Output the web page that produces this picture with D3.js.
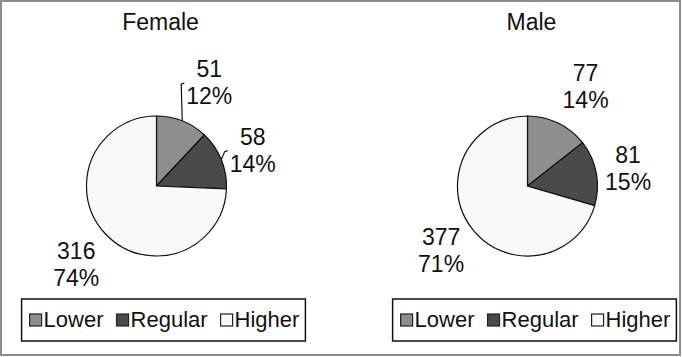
<!DOCTYPE html>
<html>
<head>
<meta charset="utf-8">
<script src="https://cdn.jsdelivr.net/npm/d3@7"></script>
<style>
  body { margin: 0; background: #fff; }
  text { font-family: "Liberation Sans", Arial, sans-serif; fill: #111; }
</style>
</head>
<body>
<div id="container"></div>
<script>
// data
const groups = ["Female", "Male"];
const categories = ["Lower", "Regular", "Higher"];
const femaleCounts = [51, 58, 316];
const maleCounts = [77, 81, 377];
const femalePct = ["12%", "14%", "74%"];
const malePct = ["14%", "15%", "71%"];
const femaleLeaders = [true, true, false];
const maleLeaders = [false, false, false];

const width = 682, height = 357;
const radius = 70, cy = 186;
const centersX = [156.5, 527.5];
const colors = d3.scaleOrdinal().domain(categories).range(["#8e8e8e", "#4a4a4a", "#f8f8f8"]);

const svg = d3.select("#container").append("svg")
  .attr("width", width).attr("height", height);

svg.append("rect")
  .attr("x", 1).attr("y", 1)
  .attr("width", width - 3).attr("height", height - 3)
  .attr("fill", "#fff").attr("stroke", "#8c8c8c").attr("stroke-width", 2);

const pie = d3.pie().sort(null).value(d => d.value);
const arc = d3.arc().innerRadius(0).outerRadius(radius);

const series = [
  { counts: femaleCounts, pct: femalePct, leaders: femaleLeaders },
  { counts: maleCounts, pct: malePct, leaders: maleLeaders }
];

groups.forEach((name, gi) => {
  const cx = centersX[gi];
  const s = series[gi];
  const g = svg.append("g").attr("transform", `translate(${cx},${cy})`);
  const rows = categories.map((c, i) => ({ cat: c, value: s.counts[i], pct: s.pct[i], leader: s.leaders[i] }));
  const arcs = pie(rows);

  // title
  svg.append("text")
    .attr("x", cx + 4).attr("y", 30)
    .attr("text-anchor", "middle")
    .attr("font-size", 23)
    .text(name);

  g.selectAll("path.slice")
    .data(arcs)
    .join("path")
    .attr("class", "slice")
    .attr("d", arc)
    .attr("fill", d => colors(d.data.cat))
    .attr("stroke", "#111")
    .attr("stroke-width", 1.2);

  // data labels, pushed outward from the slice middle (like excel's best fit)
  const boxW = 48;
  arcs.forEach(d => {
    const a = (d.startAngle + d.endAngle) / 2;
    const sn = Math.sin(a), cs = Math.cos(a);
    const px = sn * (radius + 8), py = -cs * (radius + 8);
    const lx = px + Math.sign(sn) * boxW / 2;
    const ly = py - cs * Math.abs(cs) * (cs > 0 ? 34 : 54);
    const t = g.append("text")
      .attr("text-anchor", "middle")
      .attr("font-size", 23);
    t.append("tspan").attr("x", lx).attr("y", ly - 7).text(d.data.value);
    t.append("tspan").attr("x", lx).attr("y", ly + 20).text(d.data.pct);

    if (d.data.leader) {
      const ex = sn * radius, ey = -cs * radius;
      const tx = lx - boxW / 2 - 4;
      const ty = Math.min(ey, ly);
      g.append("path")
        .attr("d", `M${ex},${ey}L${tx},${ty}l3,-1`)
        .attr("fill", "none")
        .attr("stroke", "#111")
        .attr("stroke-width", 1.2);
    }
  });

  // legend
  const lg = svg.append("g");
  let x = 8;
  categories.forEach(c => {
    const it = lg.append("g").attr("transform", `translate(${x},0)`);
    it.append("rect")
      .attr("x", 0).attr("y", 15).attr("width", 12).attr("height", 12)
      .attr("fill", colors(c)).attr("stroke", "#222").attr("stroke-width", 1.2);
    const tx = it.append("text")
      .attr("x", 14).attr("y", 28)
      .attr("font-size", 22)
      .text(c);
    const w = tx.node().getComputedTextLength();
    x += 14 + w + 13;
  });
  const boxWidth = x - 13 + 6;
  lg.insert("rect", ":first-child")
    .attr("x", 0).attr("y", 0)
    .attr("width", boxWidth).attr("height", 42)
    .attr("fill", "#fff").attr("stroke", "#111").attr("stroke-width", 1.5);
  lg.attr("transform", `translate(${cx + 7 - boxWidth / 2},299)`);
});
</script>
</body>
</html>
